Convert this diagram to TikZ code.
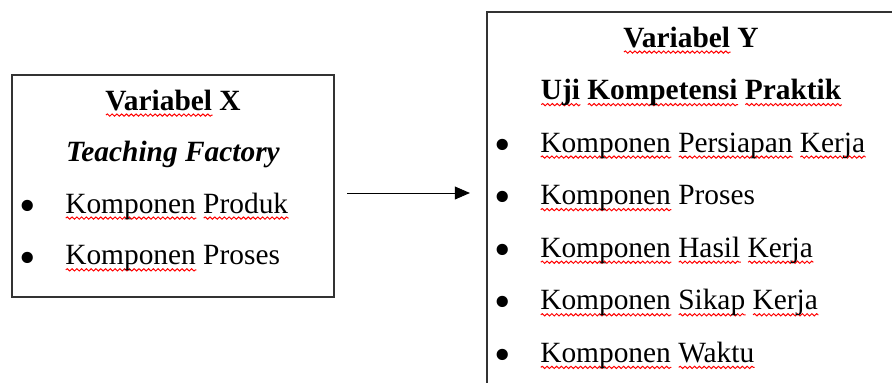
\documentclass[tikz,border=0pt]{standalone}
\usepackage{fontspec}
\setmainfont{Liberation Serif}
\usepackage{tikz}
\usetikzlibrary{positioning, arrows.meta, decorations.pathmorphing}
\newlength{\sperrw}
\newcommand{\sperr}[1]{\settowidth{\sperrw}{#1}%
  \rlap{\tikz[baseline=0pt, x=1pt, y=1pt]\draw[red, line width=0.7pt,
    decorate, decoration={snake, amplitude=0.8pt, segment length=3.4pt}]
    (0,-3.6) -- ++(\sperrw,0);}#1}
\newcommand{\itm}[1]{\makebox[1.075cm][l]{\hspace{-0.1em}\raisebox{-0.28em}{\scalebox{1.6}{\textbullet}}}#1}

\begin{document}
\begin{tikzpicture}[
    x=0.025cm, y=-0.025cm,
    >={Triangle[length=0.375cm, width=0.32cm]},
    box/.style={rectangle, draw=black!80, line width=1.1pt,
                inner sep=0pt, outer sep=0pt},
    txt/.style={inner sep=0pt, text height=0.55cm, text depth=0.17cm,
                font=\fontsize{20.9pt}{25pt}\selectfont},
    title/.style={txt, anchor=base, font=\fontsize{20.9pt}{25pt}\selectfont\bfseries},
    item/.style={txt, anchor=base west},
    arrow/.style={->, line width=0.7pt, black},
]
\useasboundingbox (0,0) rectangle (892,382);
\clip (0,0) rectangle (892,382);

% === Variabel X ===
\node[box, minimum width=8.05cm, minimum height=5.55cm] (lbox) at (173,186) {};
\node[title] (lt1) at (173,110) {\sperr{Variabel} X};
\node[title, below=0.56cm of lt1] (lt2) {\textit{Teaching Factory}};
\node[item] (li1) at (22,213) {\itm{\sperr{Komponen} \sperr{Produk}}};
\node[item, below=0.56cm of li1.south west, anchor=north west] (li2) {\itm{\sperr{Komponen} Proses}};

% === Variabel Y ===
\node[box, minimum width=10.2cm, minimum height=10cm] (rbox) at (691,212) {};
\node[title] (rt1) at (691,47) {\sperr{Variabel} Y};
\node[title, below=0.58cm of rt1] (rt2) {\sperr{Uji} \sperr{Kompetensi} \sperr{Praktik}};
\node[item] (ri1) at (497,152) {\itm{\sperr{Komponen} \sperr{Persiapan} \sperr{Kerja}}};
\node[item, below=0.58cm of ri1.south west, anchor=north west] (ri2) {\itm{\sperr{Komponen} Proses}};
\node[item, below=0.58cm of ri2.south west, anchor=north west] (ri3) {\itm{\sperr{Komponen} \sperr{Hasil} \sperr{Kerja}}};
\node[item, below=0.58cm of ri3.south west, anchor=north west] (ri4) {\itm{\sperr{Komponen} \sperr{Sikap} \sperr{Kerja}}};
\node[item, below=0.58cm of ri4.south west, anchor=north west] (ri5) {\itm{\sperr{Komponen} \sperr{Waktu}}};

% arrow X -> Y
\coordinate (mid) at (410,193);
\draw[arrow, shorten <=0.325cm, shorten >=0.425cm] (lbox.east |- mid) -- (rbox.west |- mid);

\end{tikzpicture}
\end{document}
